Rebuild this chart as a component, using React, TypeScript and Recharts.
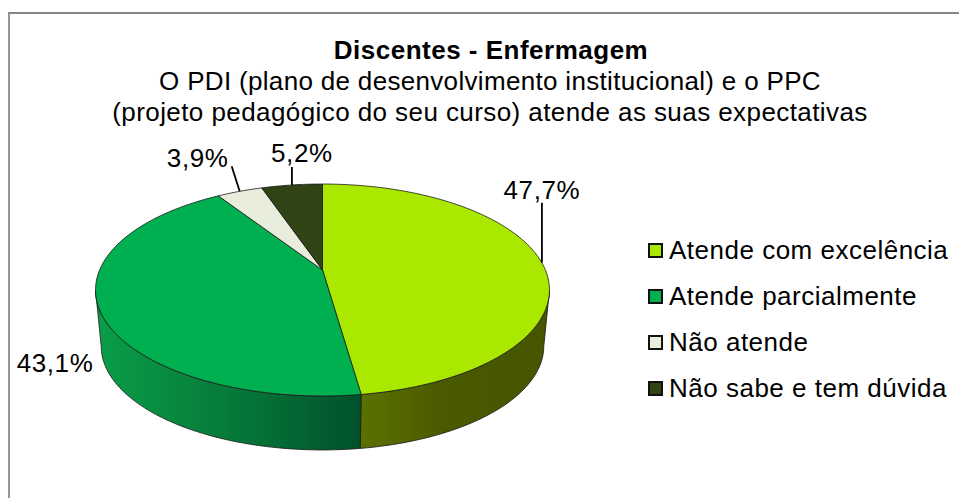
import React from "react";
import { PieChart, Pie, Legend } from "recharts";

const titleText = "Discentes - Enfermagem";
const subtitleLines = [
  "O PDI (plano de desenvolvimento institucional) e o PPC",
  "(projeto pedagógico do seu curso) atende as suas expectativas",
];
const categories = ["Atende com excelência", "Atende parcialmente", "Não atende", "Não sabe e tem dúvida"];
const values = [47.7, 43.1, 3.9, 5.2];
const valueLabels = ["47,7%", "43,1%", "3,9%", "5,2%"];
const topColors = ["#AAE800", "#00AF50", "#E9EDDC", "#2F4315"];
const data = categories.map((name, i) => ({ name, value: values[i], fill: topColors[i] }));

const FONT = "'Liberation Sans', Arial, sans-serif";
const CX = 322.5;
const CY = 270;
const R = 100;
// perspective of the tilted disc
const PC = 0.1887;
const PA = 1.022;
const PD = 2.229;

function project(theta: number, r = R) {
  const u = (Math.sin(theta) * r) / R;
  const v = (Math.cos(theta) * r) / R;
  const w = 1 + PC * v;
  return { x: (PD * R * u) / w, y: (-PA * R * v) / w };
}
const rim = (thetaDeg: number, cx: number, cy: number) => {
  const p = project((thetaDeg * Math.PI) / 180);
  return { x: cx + p.x, y: cy + p.y };
};
const rimLow = (thetaDeg: number, cx: number, cy: number) => {
  const p = project((thetaDeg * Math.PI) / 180);
  return { x: cx + p.x * 0.975, y: cy + p.y * 0.98 + 56.5 };
};
function sweep(from: number, to: number) {
  const n = Math.max(2, Math.ceil(Math.abs(to - from) / 1.5));
  return Array.from({ length: n + 1 }, (_, i) => from + ((to - from) * i) / n);
}
const pts = (list: { x: number; y: number }[]) =>
  list.map((p) => `${p.x.toFixed(2)},${p.y.toFixed(2)}`).join(" L");

const TopSlice = (props: any) => {
  const { cx, cy, startAngle, endAngle, fill } = props;
  const arc = sweep(90 - startAngle, 90 - endAngle).map((t) => rim(t, cx, cy));
  return <path d={`M${cx},${cy} L${pts(arc)} Z`} fill={fill} stroke="#1c1c1c" strokeWidth={0.8} strokeLinejoin="round" />;
};

const SIDE_MIN = 100.9;
const SIDE_MAX = 259.1;
const SideSlice = (props: any) => {
  const { cx, cy, startAngle, endAngle, index } = props;
  const a = Math.max(90 - startAngle, SIDE_MIN);
  const b = Math.min(90 - endAngle, SIDE_MAX);
  if (b <= a) return null;
  const upper = sweep(a, b).map((t) => rim(t, cx, cy));
  const lower = sweep(b, a).map((t) => rimLow(t, cx, cy));
  return <path d={`M${pts(upper)} L${pts(lower)} Z`} fill={`url(#side${index})`} stroke="#1c1c1c" strokeWidth={0.8} strokeLinejoin="round" />;
};

const LABEL_OFFSETS = [
  { x: 0, y: -64, lx: 0, ly: -60 },
  { x: 0, y: 0, lx: 0, ly: 0 },
  { x: -42, y: -24, lx: -8, ly: -25 },
  { x: 10, y: -23, lx: 0, ly: -18 },
];
const SliceLabel = (props: any) => {
  const { midAngle, index, cx, cy } = props;
  const edge = rim(90 - midAngle, cx, cy);
  const o = LABEL_OFFSETS[index];
  const text = valueLabels[index];
  const pos = index === 1 ? { x: 55, y: 372 } : { x: edge.x + o.x, y: edge.y + o.y };
  return (
    <g>
      {index !== 1 && (
        <line x1={edge.x} y1={edge.y} x2={edge.x + o.lx} y2={edge.y + o.ly} stroke="#000" strokeWidth={1.8} />
      )}
      <text x={pos.x} y={pos.y} textAnchor="middle" fontFamily={FONT} fontSize={26} letterSpacing={0.6} fill="#000">
        {text}
      </text>
    </g>
  );
};

const LegendContent = () => (
  <div>
    {data.map((e, i) => (
      <div key={e.name} style={{ height: 46, display: "flex", alignItems: "center", fontFamily: FONT, fontSize: 26, color: "#000", whiteSpace: "nowrap" }}>
        <span style={{ width: 11, height: 11, border: "2px solid #111", background: e.fill, display: "inline-block", marginRight: 6, flex: "none" }} />
        <span style={{ letterSpacing: 0.5 }}>{e.name}</span>
      </div>
    ))}
  </div>
);

export default function App() {
  return (
    <div style={{ position: "absolute", left: 0, top: 0, width: 959, height: 498, overflow: "hidden", background: "#fff" }}>
      <PieChart width={959} height={498} margin={{ top: 0, right: 0, bottom: 0, left: 0 }}>
        <defs>
          <linearGradient id="side0" x1="0" y1="0" x2="1" y2="0">
            <stop offset="0" stopColor="#5C7100" />
            <stop offset="0.45" stopColor="#495A00" />
            <stop offset="1" stopColor="#465500" />
          </linearGradient>
          <linearGradient id="side1" x1="0" y1="0" x2="1" y2="0">
            <stop offset="0" stopColor="#0A9E48" />
            <stop offset="0.5" stopColor="#067A3A" />
            <stop offset="1" stopColor="#00512A" />
          </linearGradient>
        </defs>
        <line x1={8} y1={13} x2={959} y2={13} stroke="#868686" strokeWidth={2} />
        <line x1={9} y1={13} x2={9} y2={498} stroke="#969696" strokeWidth={2} />
        <text x={491} y={59} textAnchor="middle" fontFamily={FONT} fontWeight="bold" fontSize={26} letterSpacing={0.5} fill="#000">
          {titleText}
        </text>
        {subtitleLines.map((s, i) => (
          <text key={i} x={490} y={90 + i * 31} textAnchor="middle" fontFamily={FONT} fontSize={26} letterSpacing={i === 0 ? 0.32 : 0.42} fill="#000">
            {s}
          </text>
        ))}
        <Pie
          data={data}
          dataKey="value"
          nameKey="name"
          cx={CX}
          cy={CY}
          outerRadius={R}
          startAngle={90}
          endAngle={-270}
          legendType="none"
          shape={SideSlice}
          isAnimationActive={false}
        />
        <Pie
          data={data}
          dataKey="value"
          nameKey="name"
          cx={CX}
          cy={CY}
          outerRadius={R}
          startAngle={90}
          endAngle={-270}
          shape={TopSlice}
          label={SliceLabel}
          labelLine={false}
          isAnimationActive={false}
        />
        <Legend
          content={LegendContent}
          wrapperStyle={{ position: "absolute", left: 648, top: 227, width: 311, bottom: "auto", right: "auto" }}
        />
      </PieChart>
    </div>
  );
}
